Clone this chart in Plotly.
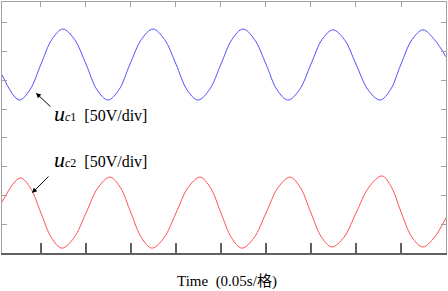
import plotly.graph_objects as go

# time in seconds (0.05 s per division), values in divisions (50 V/div)
t_uc1 = [-0.0433, -0.0244, -0.0122, 0.0, 0.0122, 0.0244, 0.0372, 0.05, 0.0622, 0.0744, 0.0867,
         0.0989, 0.1117, 0.1244, 0.1372, 0.15, 0.1622, 0.1744, 0.1872, 0.2, 0.2122, 0.2244,
         0.2372, 0.25, 0.2622, 0.2744, 0.2872, 0.3, 0.3122, 0.3244, 0.3372, 0.35, 0.3633,
         0.3767, 0.3883, 0.40, 0.4122, 0.4244, 0.4372, 0.45]
v_uc1 = [6.20, 5.32, 5.68, 6.57, 7.43, 7.79, 7.43, 6.57, 5.68, 5.32, 5.68,
         6.57, 7.43, 7.79, 7.43, 6.57, 5.68, 5.32, 5.68, 6.57, 7.43, 7.79,
         7.43, 6.57, 5.68, 5.32, 5.68, 6.57, 7.42, 7.76, 7.42, 6.57, 5.68,
         5.32, 5.68, 6.57, 7.42, 7.76, 7.42, 6.82]

t_uc2 = [-0.0433, -0.0233, -0.0117, 0.0, 0.0117, 0.0233, 0.0367, 0.05, 0.0633, 0.0767, 0.0883,
         0.10, 0.1117, 0.1233, 0.1367, 0.15, 0.1633, 0.1767, 0.1883, 0.20, 0.2117, 0.2233,
         0.2367, 0.25, 0.2633, 0.2767, 0.2883, 0.30, 0.3117, 0.3233, 0.3367, 0.35, 0.3644,
         0.3789, 0.3894, 0.40, 0.4122, 0.4244, 0.4372, 0.45]
v_uc2 = [1.77, 2.61, 2.26, 1.39, 0.53, 0.17, 0.53, 1.39, 2.27, 2.64, 2.27,
         1.39, 0.53, 0.17, 0.53, 1.39, 2.27, 2.64, 2.27, 1.39, 0.53, 0.17,
         0.53, 1.39, 2.27, 2.64, 2.27, 1.39, 0.55, 0.21, 0.55, 1.39, 2.29,
         2.68, 2.29, 1.43, 0.55, 0.21, 0.55, 1.22]

x_range = [-0.0433, 0.45]
y_range = [0, 8.73]
label_uc1 = ("<i>u</i><span style='font-size:12px'><i>c</i>1</span>"
             "<span style='font-size:16px'>  [50V/div]</span>")
label_uc2 = ("<i>u</i><span style='font-size:12px'><i>c</i>2</span>"
             "<span style='font-size:16px'>  [50V/div]</span>")
x_title = "Time  (0.05s/格)"

fig = go.Figure()
fig.add_trace(go.Scatter(x=t_uc1, y=v_uc1, mode="lines", line=dict(color="#5050ff", width=1, shape="spline"), hoverinfo="skip"))
fig.add_trace(go.Scatter(x=t_uc2, y=v_uc2, mode="lines", line=dict(color="#ff5050", width=1, shape="spline"), hoverinfo="skip"))
fig.add_trace(go.Scatter(x=[x_range[0]], y=[y_range[0]], xaxis="x2", mode="markers", marker=dict(opacity=0), hoverinfo="skip"))

fig.update_layout(
    width=448, height=291,
    margin=dict(l=2, r=2, t=2, b=38),
    paper_bgcolor="white", plot_bgcolor="white",
    showlegend=False,
    font=dict(family="Liberation Serif", size=14, color="black"),
    xaxis=dict(range=x_range, dtick=0.05, tick0=0, ticks="inside", ticklen=10, tickwidth=1.5,
               tickcolor="#606060", showline=True, linecolor="#606060", linewidth=1.5,
               showticklabels=False, showgrid=False, zeroline=False),
    xaxis2=dict(range=x_range, dtick=0.05, tick0=0, overlaying="x", side="top", ticks="inside",
                ticklen=5, tickwidth=1, tickcolor="#a0a0a0", showline=True, linecolor="#a0a0a0",
                linewidth=1, showticklabels=False, showgrid=False, zeroline=False),
    yaxis=dict(range=y_range, dtick=1, tick0=0, ticks="inside", ticklen=5, tickwidth=1,
               tickcolor="#a0a0a0", showline=True, linecolor="#a0a0a0", linewidth=1,
               mirror="ticks", showticklabels=False, showgrid=False, zeroline=False),
)

fig.add_annotation(x=0.0122, y=4.835, xref="x", yref="y", text=label_uc1, showarrow=False,
                   xanchor="left", yanchor="middle", font=dict(size=22, family="Liberation Serif"))
fig.add_annotation(x=0.0122, y=3.235, xref="x", yref="y", text=label_uc2, showarrow=False,
                   xanchor="left", yanchor="middle", font=dict(size=22, family="Liberation Serif"))
fig.add_annotation(x=-0.0056, y=5.565, ax=0.0122, ay=5.043, xref="x", yref="y", axref="x", ayref="y",
                   text="", showarrow=True, arrowhead=2, arrowsize=1, arrowwidth=1, arrowcolor="black")
fig.add_annotation(x=-0.01, y=2.087, ax=0.01, ay=2.713, xref="x", yref="y", axref="x", ayref="y",
                   text="", showarrow=True, arrowhead=2, arrowsize=1, arrowwidth=1, arrowcolor="black")
fig.add_annotation(x=0.507, y=-0.1116, xref="paper", yref="paper", text=x_title, showarrow=False,
                   xanchor="center", yanchor="middle",
                   font=dict(size=15, family="Liberation Serif, Noto Sans CJK SC"))

fig.write_html("out.html", config={"displayModeBar": False},
               post_script="document.body.style.margin='0';")
